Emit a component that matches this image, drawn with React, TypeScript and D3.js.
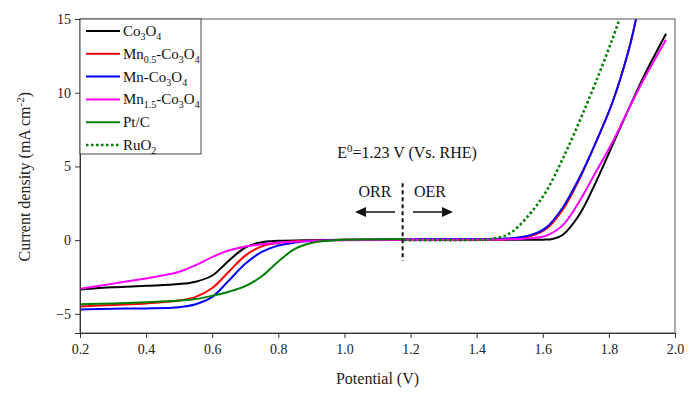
import { useRef, useEffect } from 'react';
import * as d3 from 'd3';

// LSV curves, [potential (V), current density (mA cm-2)]
const co3o4 = [
  [0.2, -3.35], [0.3, -3.2], [0.4, -3.1], [0.5, -2.98], [0.55, -2.82], [0.6, -2.4],
  [0.65, -1.4], [0.7, -0.5], [0.75, -0.14], [0.8, -0.05], [0.9, 0], [1.0, 0.02],
  [1.2, 0.03], [1.4, 0.03], [1.5, 0.03], [1.6, 0.03], [1.63, 0.08], [1.66, 0.35],
  [1.71, 1.7], [1.76, 3.9], [1.81, 6.4], [1.86, 8.9], [1.91, 11.3], [1.973, 14.0],
];
const mn05 = [
  [0.2, -4.5], [0.3, -4.4], [0.4, -4.3], [0.5, -4.1], [0.55, -3.85], [0.6, -3.25],
  [0.65, -2.15], [0.7, -1.05], [0.75, -0.42], [0.8, -0.2], [0.85, -0.08], [0.9, -0.02],
  [1.0, 0.02], [1.2, 0.04], [1.4, 0.05], [1.5, 0.08], [1.56, 0.25], [1.61, 0.75],
  [1.66, 2.05], [1.71, 4.1], [1.76, 6.6], [1.81, 9.3], [1.86, 12.9], [1.885, 15.3],
];
const mn10 = [
  [0.2, -4.7], [0.3, -4.65], [0.4, -4.63], [0.5, -4.55], [0.55, -4.35], [0.6, -3.85],
  [0.65, -2.75], [0.7, -1.6], [0.75, -0.8], [0.8, -0.37], [0.85, -0.17], [0.9, -0.05],
  [0.95, 0], [1.2, 0.05], [1.4, 0.08], [1.5, 0.12], [1.56, 0.32], [1.61, 0.85],
  [1.66, 2.2], [1.71, 4.2], [1.76, 6.6], [1.81, 9.3], [1.86, 12.9], [1.885, 15.3],
];
const mn15 = [
  [0.2, -3.3], [0.3, -2.95], [0.4, -2.6], [0.45, -2.4], [0.5, -2.15], [0.55, -1.7],
  [0.6, -1.15], [0.65, -0.7], [0.7, -0.43], [0.75, -0.28], [0.8, -0.18], [0.9, -0.06],
  [1.0, 0], [1.2, 0.02], [1.4, 0.04], [1.5, 0.06], [1.56, 0.12], [1.61, 0.3],
  [1.66, 1.0], [1.71, 2.6], [1.76, 4.6], [1.81, 6.6], [1.86, 8.9], [1.91, 11.1], [1.973, 13.6],
];
const ptc = [
  [0.2, -4.35], [0.3, -4.3], [0.4, -4.22], [0.5, -4.1], [0.55, -4.0], [0.6, -3.78],
  [0.65, -3.5], [0.7, -3.12], [0.75, -2.45], [0.8, -1.45], [0.85, -0.6], [0.9, -0.2],
  [0.95, -0.04], [1.0, 0.02], [1.1, 0.05], [1.18, 0.08],
];
const ruo2 = [
  [1.18, 0.0], [1.3, 0.0], [1.4, 0.02], [1.45, 0.1], [1.5, 0.45], [1.56, 1.75],
  [1.61, 3.3], [1.66, 5.5], [1.71, 8.0], [1.76, 10.7], [1.81, 13.6], [1.84, 15.5],
];

const seriesColors = ['#000000', '#ff0000', '#0000ff', '#ff00ff', '#008000', '#008000'];
const seriesData = [co3o4, mn05, mn10, mn15, ptc, ruo2];

const xTicks = [0.2, 0.4, 0.6, 0.8, 1.0, 1.2, 1.4, 1.6, 1.8, 2.0];
const yTicks = [-5, 0, 5, 10, 15];

// legend labels with subscripts: [text, isSub]
const legendParts = [
  [['Co', 0], ['3', 1], ['O', 0], ['4', 1]],
  [['Mn', 0], ['0.5', 1], ['-Co', 0], ['3', 1], ['O', 0], ['4', 1]],
  [['Mn-Co', 0], ['3', 1], ['O', 0], ['4', 1]],
  [['Mn', 0], ['1.5', 1], ['-Co', 0], ['3', 1], ['O', 0], ['4', 1]],
  [['Pt/C', 0]],
  [['RuO', 0], ['2', 1]],
];

const W = 696, H = 395;
const margin = { top: 19, right: 21, bottom: 62, left: 80 };
const font = '"Liberation Serif", "Times New Roman", serif';

const App = () => {
  const svgRef = useRef(null);

  useEffect(() => {
    const svg = d3.select(svgRef.current);
    svg.selectAll('*').remove();

    const x = d3.scaleLinear().domain([0.2, 2.0]).range([margin.left, W - margin.right]);
    const y = d3.scaleLinear().domain([-6.3, 15]).range([H - margin.bottom, margin.top]);

    svg.append('defs').append('clipPath').attr('id', 'plotclip')
      .append('rect')
      .attr('x', margin.left).attr('y', margin.top)
      .attr('width', W - margin.left - margin.right)
      .attr('height', H - margin.top - margin.bottom);

    // curves
    const line = d3.line().x(d => x(d[0])).y(d => y(d[1])).curve(d3.curveCatmullRom.alpha(0.5));
    const g = svg.append('g').attr('clip-path', 'url(#plotclip)');
    seriesData.forEach((data, i) => {
      g.append('path')
        .attr('d', line(data))
        .attr('fill', 'none')
        .attr('stroke', seriesColors[i])
        .attr('stroke-width', i === 5 ? 2.6 : 2)
        .attr('stroke-dasharray', i === 5 ? '2.5,2.5' : null);
    });

    // frame
    svg.append('rect')
      .attr('x', margin.left).attr('y', margin.top)
      .attr('width', W - margin.left - margin.right)
      .attr('height', H - margin.top - margin.bottom)
      .attr('fill', 'none').attr('stroke', '#555').attr('stroke-width', 1);

    // x axis
    const xAxis = svg.append('g').attr('transform', `translate(0, ${H - margin.bottom})`);
    xAxis.call(d3.axisBottom(x).tickValues(d3.range(0.2, 2.01, 0.1)).tickSize(4).tickFormat(() => ''));
    xAxis.call(d3.axisBottom(x).tickValues(xTicks).tickSize(5).tickFormat(d3.format('.1f')));
    xAxis.selectAll('.domain').attr('stroke', '#333');
    xAxis.selectAll('line').attr('stroke', '#333');
    xAxis.selectAll('text').attr('font-family', font).attr('font-size', 14).attr('fill', '#222').attr('dy', '0.95em');

    // y axis
    const yAxis = svg.append('g').attr('transform', `translate(${margin.left}, 0)`);
    yAxis.call(d3.axisLeft(y).tickValues([-5, -2.5, 0, 2.5, 5, 7.5, 10, 12.5, 15]).tickSize(5).tickFormat(() => ''));
    yAxis.call(d3.axisLeft(y).tickValues(yTicks).tickSize(5).tickFormat(d3.format('d')));
    yAxis.selectAll('.domain').attr('stroke', '#333');
    yAxis.selectAll('line').attr('stroke', '#333');
    yAxis.selectAll('text').attr('font-family', font).attr('font-size', 14).attr('fill', '#222').attr('x', -9);

    // axis titles
    svg.append('text')
      .attr('x', x(1.1)).attr('y', 384)
      .attr('text-anchor', 'middle')
      .attr('font-family', font).attr('font-size', 16).attr('fill', '#222')
      .text('Potential (V)');

    const yt = svg.append('text')
      .attr('transform', `translate(30, ${y(4.3)}) rotate(-90)`)
      .attr('text-anchor', 'middle')
      .attr('font-family', font).attr('font-size', 16).attr('fill', '#222');
    yt.append('tspan').text('Current density (mA cm');
    yt.append('tspan').attr('dy', -6).attr('font-size', 11).text('-2');
    yt.append('tspan').attr('dy', 6).text(')');

    // legend
    const lg = svg.append('g');
    lg.append('rect')
      .attr('x', margin.left).attr('y', margin.top)
      .attr('width', 121).attr('height', 135)
      .attr('fill', 'white').attr('stroke', '#444').attr('stroke-width', 1);
    legendParts.forEach((parts, i) => {
      const ly = 31 + i * 22.8;
      lg.append('line')
        .attr('x1', 86).attr('x2', 120).attr('y1', ly).attr('y2', ly)
        .attr('stroke', seriesColors[i])
        .attr('stroke-width', i === 5 ? 2.6 : 2)
        .attr('stroke-dasharray', i === 5 ? '2.5,2.5' : null);
      const t = lg.append('text')
        .attr('x', 123).attr('y', ly + 5)
        .attr('font-family', font).attr('font-size', 15).attr('fill', '#111');
      let prevSub = 0;
      parts.forEach(([s, sub]) => {
        const dy = sub && !prevSub ? 4 : !sub && prevSub ? -4 : 0;
        t.append('tspan').attr('dy', dy).attr('font-size', sub ? 10 : 15).text(s);
        prevSub = sub;
      });
    });

    // annotations
    const ann = svg.append('g').attr('font-family', font).attr('fill', '#111');
    const e0 = ann.append('text').attr('x', 407).attr('y', 158).attr('text-anchor', 'middle').attr('font-size', 16);
    e0.append('tspan').text('E');
    e0.append('tspan').attr('dy', -6).attr('font-size', 11).text('0');
    e0.append('tspan').attr('dy', 6).text('=1.23 V (Vs. RHE)');
    ann.append('text').attr('x', 375).attr('y', 197).attr('text-anchor', 'middle').attr('font-size', 16).text('ORR');
    ann.append('text').attr('x', 430).attr('y', 197).attr('text-anchor', 'middle').attr('font-size', 16).text('OER');

    const vx = x(1.176);
    svg.append('line')
      .attr('x1', vx).attr('x2', vx).attr('y1', y(3.85)).attr('y2', y(-1.4))
      .attr('stroke', '#111').attr('stroke-width', 2).attr('stroke-dasharray', '4,3');

    const ay = 212;
    svg.append('line').attr('x1', 395).attr('x2', 364).attr('y1', ay).attr('y2', ay).attr('stroke', '#111').attr('stroke-width', 1.5);
    svg.append('path').attr('d', `M355,${ay} L366,${ay - 5} L366,${ay + 5} Z`).attr('fill', '#111');
    svg.append('line').attr('x1', 413).attr('x2', 444).attr('y1', ay).attr('y2', ay).attr('stroke', '#111').attr('stroke-width', 1.5);
    svg.append('path').attr('d', `M453,${ay} L442,${ay - 5} L442,${ay + 5} Z`).attr('fill', '#111');
  }, []);

  return (
    <svg ref={svgRef} width={W} height={H} style={{ position: 'absolute', left: 0, top: 0, background: 'white' }} />
  );
};

export default App;
